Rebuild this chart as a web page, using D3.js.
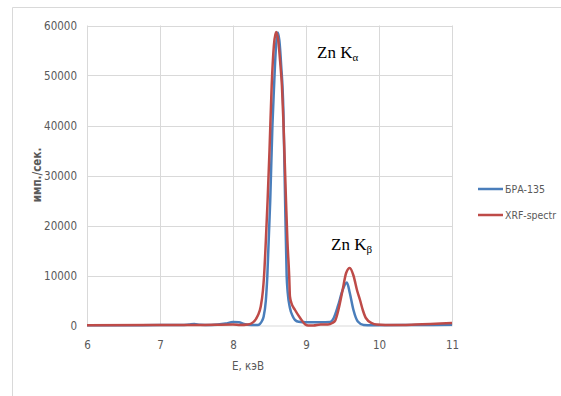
<!DOCTYPE html>
<html><head><meta charset="utf-8">
<script src="https://cdn.jsdelivr.net/npm/d3@7"></script>
<style>
body{margin:0;background:#fff;}
text{font-family:"DejaVu Sans Condensed","Liberation Sans",sans-serif;}
</style></head>
<body>
<svg id="c" width="561" height="396"></svg>
<script>
// ---- data ----
const xTicks = [6, 7, 8, 9, 10, 11];
const yTicks = [0, 10000, 20000, 30000, 40000, 50000, 60000];
const seriesNames = ["БРА-135", "XRF-spectr"];
const braE = [6.0,6.5,7.0,7.3,7.4,7.47,7.55,7.7,7.9,8.0,8.08,8.15,8.25,8.34,8.40,8.42,8.45,8.47,8.51,8.54,8.56,8.59,8.612,8.635,8.66,8.69,8.71,8.735,8.75,8.78,8.82,8.85,8.9,9.0,9.2,9.33,9.38,9.44,9.5,9.56,9.6,9.65,9.71,9.79,9.9,10.5,11.0];
const braV = [50,50,80,80,200,300,150,100,400,700,650,300,100,100,1000,1800,5000,9800,25000,40000,47000,56000,58600,57000,52000,43000,28000,10000,6500,3500,1800,1100,750,650,650,700,1500,4000,7000,8600,6500,3100,800,100,50,100,150];
const xrfE = [6.0,6.9,7.5,8.0,8.1,8.2,8.25,8.3,8.34,8.38,8.41,8.425,8.45,8.474,8.50,8.53,8.56,8.59,8.62,8.65,8.67,8.69,8.726,8.745,8.77,8.78,8.8,8.85,8.92,8.99,9.03,9.1,9.2,9.3,9.36,9.4,9.45,9.5,9.55,9.6,9.65,9.7,9.74,9.78,9.82,9.9,9.97,10.2,10.5,11.0];
const xrfV = [50,100,100,200,100,200,400,1000,2000,3800,7000,9800,17000,25000,35000,48000,56000,58700,57000,52000,48000,41000,25000,17100,9800,5800,4500,3100,1500,200,0,0,200,200,500,1000,3500,7000,10500,11500,10000,7000,5100,3000,1500,500,200,100,200,500];
const colors = ["#4a7ebb", "#be4b48"];

// ---- chart ----
const svg = d3.select("#c");
const x = d3.scaleLinear().domain([6, 11]).range([87, 452]);
const y = d3.scaleLinear().domain([0, 60000]).range([325.5, 25.5]);

// outer chart border
svg.append("path").attr("d","M12.5,396V7.5H561").attr("fill","none").attr("stroke","#d9d9d9");

// gridlines
svg.append("g").selectAll("line").data(yTicks.filter(d=>d>0)).join("line")
  .attr("x1",x(6)).attr("x2",x(11)).attr("y1",d=>Math.round(y(d))+0.5).attr("y2",d=>Math.round(y(d))+0.5)
  .attr("stroke","#d9d9d9");
svg.append("g").selectAll("line").data(xTicks).join("line")
  .attr("y1",y(0)).attr("y2",y(60000)).attr("x1",d=>Math.round(x(d))+0.5).attr("x2",d=>Math.round(x(d))+0.5)
  .attr("stroke","#d9d9d9");

// axes
const yAxis = d3.axisLeft(y).tickValues(yTicks).tickSize(0).tickPadding(10).tickFormat(d3.format("d"));
const gy = svg.append("g").attr("transform","translate(87,0)").call(yAxis);
gy.select(".domain").remove();
gy.selectAll("text").attr("fill","#595959").style("font-size","11.5px");

const xAxis = d3.axisBottom(x).tickValues(xTicks).tickSize(0).tickPadding(15).tickFormat(d3.format("d"));
const gx = svg.append("g").attr("transform",`translate(0,${y(0)})`).call(xAxis);
gx.select(".domain").attr("stroke","#d9d9d9");
gx.selectAll("text").attr("fill","#595959").style("font-size","11.5px");

// axis titles
svg.append("text").attr("x",248).attr("y",370).attr("text-anchor","middle")
  .attr("fill","#595959").style("font-size","11.5px").text("E, кэВ");
svg.append("text").attr("transform","translate(41,175) rotate(-90)").attr("text-anchor","middle")
  .attr("fill","#595959").style("font-size","11.5px").style("font-weight","bold").text("имп./сек.");

// lines
const line = d3.line().x(d=>x(d[0])).y(d=>y(d[1])).curve(d3.curveMonotoneX);
const data = [d3.zip(braE, braV), d3.zip(xrfE, xrfV)];
svg.append("g").selectAll("path").data(data).join("path")
  .attr("d", line).attr("fill","none")
  .attr("stroke",(d,i)=>colors[i]).attr("stroke-width",2.5).attr("stroke-linejoin","round");

// annotations
function annot(tx, ty, sub){
  const t = svg.append("text").attr("x",tx).attr("y",ty)
    .style("font-family","'Liberation Serif','Times New Roman',serif").style("font-size","17px").attr("fill","#000");
  t.append("tspan").text("Zn K");
  t.append("tspan").attr("dy",3).style("font-size","11px").text(sub);
}
annot(317, 58, "α");
annot(331, 250, "β");

// legend
const lg = svg.append("g");
seriesNames.forEach((n,i)=>{
  const ly = 189 + i*26;
  lg.append("line").attr("x1",478).attr("x2",503).attr("y1",ly).attr("y2",ly)
    .attr("stroke",colors[i]).attr("stroke-width",2.5);
  lg.append("text").attr("x",505).attr("y",ly+4).attr("fill","#595959")
    .style("font-size","11px").attr("textLength", i === 0 ? 40 : 51).attr("lengthAdjust","spacingAndGlyphs").text(n);
});
</script>
</body></html>
